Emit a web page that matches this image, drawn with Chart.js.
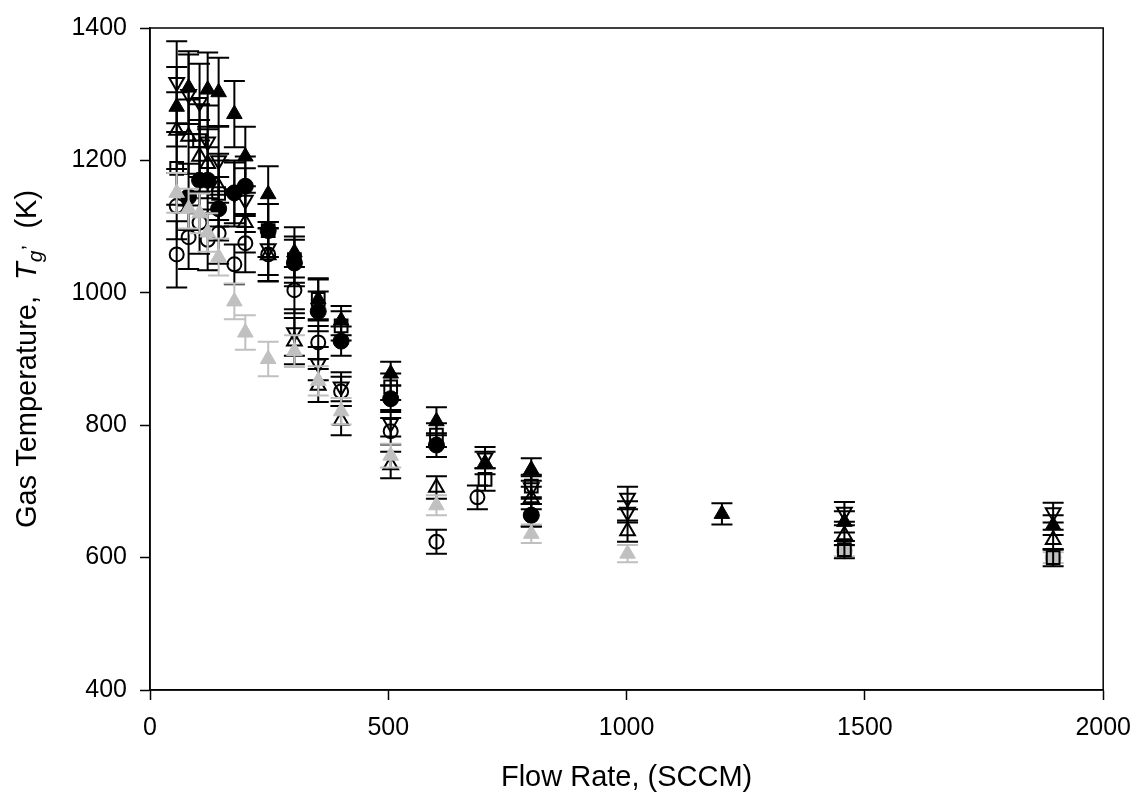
<!DOCTYPE html>
<html>
<head>
<meta charset="utf-8">
<script src="https://cdn.jsdelivr.net/npm/chart.js@4.4.1/dist/chart.umd.min.js"></script>
<style>
html,body{margin:0;padding:0;background:#fff;}
#wrap{width:1144px;height:796px;position:relative;}
</style>
</head>
<body>
<div id="wrap"><canvas id="c"></canvas></div>
<script>
// ---- data ----
const xTitle = 'Flow Rate, (SCCM)';
const yTitleParts = ['Gas Temperature,  ', 'T', 'g', ',', '  (K)'];

// filled black up-triangles
const triFilledX   = [56, 81, 121, 144, 177, 200, 248, 303, 353, 401, 505, 601, 703, 800, 1200, 1457, 1895];
const triFilledY   = [1281, 1310, 1307, 1303, 1270, 1206, 1149, 1061, 990, 958, 878, 806, 743, 733, 666, 654, 649];
const triFilledErr = [60, 55, 56, 52, 50, 45, 42, 38, 32, 22, 18, 21, 17, 17, 16, 16, 15];

// open down-triangles
const triDownX   = [56, 81, 104, 121, 144, 177, 200, 248, 303, 353, 401, 505, 703, 800, 1002, 1002, 1457, 1895];
const triDownY   = [1318, 1300, 1288, 1228, 1200, 1150, 1140, 1067, 940, 893, 858, 803, 751, 706, 690, 669, 669, 668];
const triDownErr = [62, 60, 58, 55, 52, 50, 48, 40, 35, 25, 22, 20, 16, 17, 17, 16, 15, 15];

// open up-triangles
const triOpenX   = [56, 81, 104, 121, 144, 200, 248, 303, 353, 401, 505, 601, 800, 1002, 1457, 1895];
const triOpenY   = [1245, 1236, 1206, 1195, 1160, 1106, 1057, 927, 860, 807, 740, 706, 690, 640, 634, 627];
const triOpenErr = [58, 56, 55, 52, 50, 45, 40, 35, 25, 22, 20, 17, 17, 16, 15, 15];

// filled black circles
const circFilledX   = [81, 104, 121, 144, 177, 200, 248, 303, 353, 401, 505, 601, 800];
const circFilledY   = [1145, 1170, 1170, 1127, 1151, 1161, 1094, 1045, 972, 927, 840, 770, 664];
const circFilledErr = [50, 50, 50, 48, 46, 45, 40, 35, 30, 22, 20, 18, 17];

// open circles
const circOpenX   = [56, 56, 81, 104, 121, 144, 177, 200, 248, 303, 353, 401, 505, 601, 687, 800];
const circOpenY   = [1131, 1058, 1084, 1106, 1080, 1090, 1043, 1075, 1058, 1004, 925, 851, 791, 624, 691, 664];
const circOpenErr = [50, 50, 48, 47, 46, 46, 30, 44, 40, 35, 25, 22, 20, 18, 18, 17];

// open squares
const sqOpenX   = [56, 104, 144, 248, 303, 353, 401, 505, 601, 703, 800, 1457, 1895];
const sqOpenY   = [1188, 1230, 1150, 1094, 1050, 990, 950, 858, 785, 718, 708, 612, 600];
const sqOpenErr = [55, 55, 50, 40, 35, 30, 22, 20, 18, 17, 17, 13, 13];

// grey filled up-triangles
const triGreyX   = [56, 81, 104, 121, 144, 177, 200, 248, 303, 353, 401, 505, 601, 800, 1002];
const triGreyY   = [1151, 1127, 1120, 1091, 1054, 987, 940, 900, 912, 867, 821, 754, 679, 636, 606];
const triGreyErr = [30, 30, 30, 29, 28, 27, 26, 26, 24, 22, 20, 18, 15, 14, 13];

// grey filled circles
const circGreyX   = [1457, 1895];
const circGreyY   = [610, 600];
const circGreyErr = [8, 8];

// ---- helpers ----
const FONT = '"Liberation Sans", Arial, Helvetica, sans-serif';
const BLACK = '#000000';
const GREY = '#c0c0c0';
function pts(xs, ys) { return xs.map((x, i) => ({ x: x, y: ys[i] })); }

function series(label, xs, ys, errs, style, radius, color, filled, rotation) {
  return {
    label: label,
    data: pts(xs, ys),
    errors: errs,
    pointStyle: style,
    pointRadius: radius,
    pointHoverRadius: radius,
    rotation: rotation || 0,
    borderColor: color,
    backgroundColor: filled ? color : 'rgba(0,0,0,0)',
    pointBorderWidth: filled ? 1 : 2,
    showLine: false
  };
}

// first dataset is drawn on top
const datasets = [
  series('grey triangles', triGreyX, triGreyY, triGreyErr, 'triangle', 9, GREY, true),
  series('filled triangles', triFilledX, triFilledY, triFilledErr, 'triangle', 9, BLACK, true),
  series('filled circles', circFilledX, circFilledY, circFilledErr, 'circle', 8, BLACK, true),
  series('open down triangles', triDownX, triDownY, triDownErr, 'triangle', 8.5, BLACK, false, 180),
  series('open triangles', triOpenX, triOpenY, triOpenErr, 'triangle', 8.5, BLACK, false),
  series('open circles', circOpenX, circOpenY, circOpenErr, 'circle', 7, BLACK, false),
  series('open squares', sqOpenX, sqOpenY, sqOpenErr, 'rect', 9, BLACK, false),
  series('grey circles', circGreyX, circGreyY, circGreyErr, 'circle', 8, GREY, true)
];

// ---- plugins ----
const errorBars = {
  id: 'errorBars',
  beforeDatasetDraw(chart, args) {
    const ds = chart.data.datasets[args.index];
    if (!ds.errors) return;
    const ctx = chart.ctx, xs = chart.scales.x, ys = chart.scales.y;
    ctx.save();
    ctx.strokeStyle = ds.borderColor;
    ctx.lineWidth = 2;
    ds.data.forEach((p, i) => {
      const e = ds.errors[i];
      const px = xs.getPixelForValue(p.x);
      const t = ys.getPixelForValue(p.y + e);
      const b = ys.getPixelForValue(p.y - e);
      ctx.beginPath();
      ctx.moveTo(px, t); ctx.lineTo(px, b);
      ctx.moveTo(px - 10.5, t); ctx.lineTo(px + 10.5, t);
      ctx.moveTo(px - 10.5, b); ctx.lineTo(px + 10.5, b);
      ctx.stroke();
    });
    ctx.restore();
  }
};

const frameAndTitles = {
  id: 'frameAndTitles',
  afterDraw(chart) {
    const ctx = chart.ctx, a = chart.chartArea;
    ctx.save();
    ctx.strokeStyle = BLACK;
    ctx.lineWidth = 1.5;
    ctx.strokeRect(a.left, a.top, a.right - a.left, a.bottom - a.top);

    ctx.fillStyle = BLACK;
    // x title
    ctx.font = '29px ' + FONT;
    ctx.textAlign = 'center';
    ctx.textBaseline = 'alphabetic';
    ctx.fillText(xTitle, (a.left + a.right) / 2, 786);

    // y title (rotated, italic T with subscript g)
    const fonts = ['29px ' + FONT, 'italic 29px ' + FONT, 'italic 21px ' + FONT, '21px ' + FONT, '29px ' + FONT];
    const shifts = [0, 0, 6, -12, 0];
    const widths = yTitleParts.map((s, i) => { ctx.font = fonts[i]; return ctx.measureText(s).width; });
    const total = widths.reduce((s, w) => s + w, 0);
    const cy = (a.top + a.bottom) / 2;
    ctx.translate(36, cy);
    ctx.rotate(-Math.PI / 2);
    ctx.textAlign = 'left';
    let pos = -total / 2;
    yTitleParts.forEach((s, i) => {
      ctx.font = fonts[i];
      ctx.fillText(s, pos, shifts[i]);
      pos += widths[i];
    });
    ctx.restore();
  }
};

new Chart(document.getElementById('c'), {
  type: 'scatter',
  data: { datasets: datasets },
  options: {
    responsive: true,
    maintainAspectRatio: false,
    animation: false,
    layout: { padding: { left: 0, top: 20, right: 36, bottom: 0 } },
    plugins: { legend: { display: false }, tooltip: { enabled: false } },
    scales: {
      x: {
        type: 'linear', position: 'bottom', min: 0, max: 2000,
        ticks: { stepSize: 500, color: BLACK, font: { family: FONT, size: 25 }, padding: 13, maxRotation: 0,
                 callback: v => String(v) },
        grid: { drawOnChartArea: false, drawTicks: true, tickLength: 10, tickWidth: 1.5, tickColor: BLACK, color: BLACK },
        border: { display: true, color: BLACK, width: 1.5 },
        afterFit(s) { s.height = 106; }
      },
      y: {
        type: 'linear', position: 'left', min: 400, max: 1400,
        ticks: { stepSize: 200, color: BLACK, font: { family: FONT, size: 25 }, padding: 13,
                 callback: v => String(v) },
        grid: { drawOnChartArea: false, drawTicks: true, tickLength: 10, tickWidth: 1.5, tickColor: BLACK, color: BLACK },
        border: { display: true, color: BLACK, width: 1.5 },
        afterFit(s) { s.width = 150; }
      }
    }
  },
  plugins: [errorBars, frameAndTitles]
});
</script>
</body>
</html>
